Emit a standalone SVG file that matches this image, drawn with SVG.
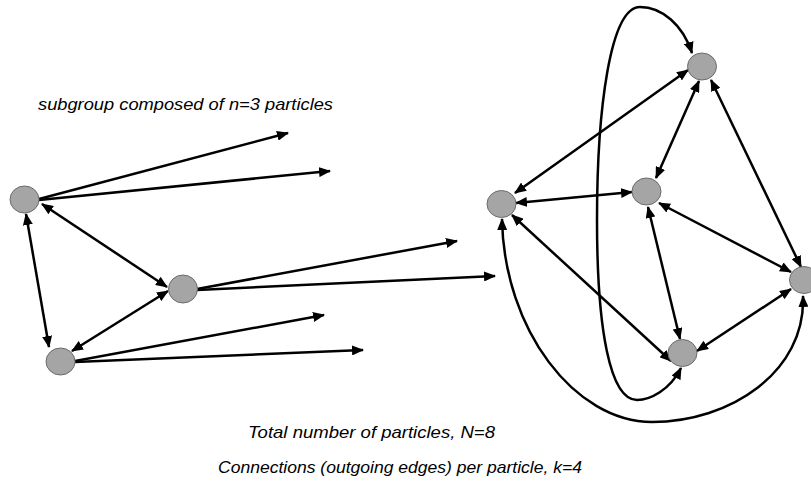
<svg xmlns="http://www.w3.org/2000/svg" width="811" height="483" viewBox="0 0 811 483">
<defs>
<marker id="ah" viewBox="0 0 12 10" markerUnits="userSpaceOnUse" markerWidth="12" markerHeight="10" refX="11" refY="5" orient="auto-start-reverse">
<path d="M0,0 L12,5 L0,10 z" fill="#000"/>
</marker>
<style>
.n{fill:#a5a5a5;stroke:#6b6b6b;stroke-width:1}
.e{fill:none;stroke:#000;stroke-width:2.5;marker-end:url(#ah)}
.b{fill:none;stroke:#000;stroke-width:2.5;marker-start:url(#ah);marker-end:url(#ah)}
.t{font-family:"Liberation Sans",Arial,sans-serif;font-style:italic;font-size:17px;fill:#000}
</style>
</defs>
<rect width="811" height="483" fill="#fff"/>
<g id="connectors">
<line class="b" x1="42" y1="204" x2="167" y2="287"/>
<line class="b" x1="26" y1="214" x2="49" y2="347"/>
<line class="b" x1="168" y1="291" x2="72" y2="351"/>
<line class="e" x1="39" y1="199" x2="288" y2="133"/>
<line class="e" x1="39" y1="200" x2="330" y2="171"/>
<line class="e" x1="197" y1="289" x2="457" y2="241"/>
<line class="e" x1="197" y1="290" x2="495" y2="276"/>
<line class="e" x1="75" y1="361" x2="324" y2="315"/>
<line class="e" x1="75" y1="362" x2="363" y2="350"/>
<line class="b" x1="515" y1="193" x2="688" y2="70"/>
<line class="b" x1="516" y1="203" x2="632" y2="192"/>
<line class="b" x1="699" y1="81" x2="656" y2="178"/>
<line class="b" x1="711" y1="80" x2="801" y2="267"/>
<line class="b" x1="659" y1="203" x2="791" y2="272"/>
<line class="b" x1="648" y1="207" x2="680" y2="339"/>
<line class="b" x1="512" y1="215" x2="671" y2="361"/>
<line class="b" x1="791" y1="289" x2="697" y2="351"/>
<path class="b" d="M502,219 C504,330 575,422 652,422 C730,422 806,372 803,296"/>
<path class="b" d="M681,368 C670,390 650,400 637,400 C610,400 597,330 597,220 C597,110 610,7 640,7 C662,7 683,25 692,53"/>
</g>
<g id="node-a"><ellipse class="n" cx="24.5" cy="199.5" rx="14.5" ry="13.5"/></g>
<g id="node-b"><ellipse class="n" cx="183" cy="289" rx="14.5" ry="14"/></g>
<g id="node-c"><ellipse class="n" cx="60.5" cy="361.5" rx="14.5" ry="13.5"/></g>
<g id="node-d"><ellipse class="n" cx="501.5" cy="204" rx="14.5" ry="13.5"/></g>
<g id="node-e"><ellipse class="n" cx="646.5" cy="191.5" rx="14.5" ry="13.5"/></g>
<g id="node-f"><ellipse class="n" cx="702" cy="66.5" rx="14.5" ry="13.5"/></g>
<g id="node-g"><ellipse class="n" cx="804" cy="280" rx="14.5" ry="13.5"/></g>
<g id="node-h"><ellipse class="n" cx="682.5" cy="353" rx="14.5" ry="13.5"/></g>
<g id="labels">
<text class="t" x="38" y="110" textLength="295" lengthAdjust="spacingAndGlyphs">subgroup composed of n=3 particles</text>
<text class="t" x="248" y="438" textLength="247" lengthAdjust="spacingAndGlyphs">Total number of particles, N=8</text>
<text class="t" x="218" y="473" textLength="364" lengthAdjust="spacingAndGlyphs">Connections (outgoing edges) per particle, k=4</text>
</g>
</svg>
